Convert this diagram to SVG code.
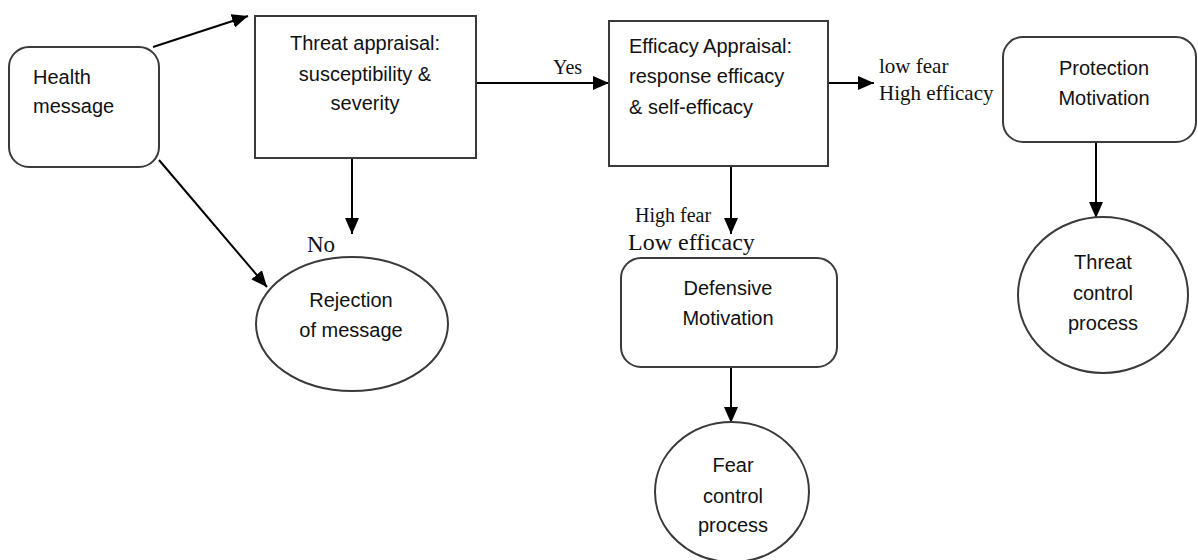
<svg xmlns="http://www.w3.org/2000/svg" width="1198" height="560" viewBox="0 0 1198 560">
<defs>
<marker id="ah" markerWidth="16" markerHeight="14" refX="16" refY="7" orient="auto" markerUnits="userSpaceOnUse">
<path d="M0,0 L16,7 L0,14 z" fill="#000"/>
</marker>
<style>
.box{fill:#fff;stroke:#3a3a3a;stroke-width:2}
.nt{font-family:"Liberation Sans",Arial,sans-serif;font-size:20px;fill:#111}
.c{text-anchor:middle}
.lb{font-family:"Liberation Serif","Times New Roman",serif;fill:#111}
.cn{stroke:#000;stroke-width:2;fill:none;marker-end:url(#ah)}
</style>
</defs>
<rect width="1198" height="560" fill="#fff"/>
<g id="connectors">
<line class="cn" x1="153" y1="47" x2="248" y2="16"/>
<line class="cn" x1="159" y1="160" x2="267" y2="287"/>
<line class="cn" x1="352" y1="158" x2="352" y2="234"/>
<line class="cn" x1="476" y1="83" x2="609" y2="83"/>
<line class="cn" x1="828" y1="83" x2="874" y2="83"/>
<line class="cn" x1="731" y1="166" x2="731" y2="234"/>
<line class="cn" x1="1096" y1="142" x2="1096" y2="218"/>
<line class="cn" x1="731" y1="367" x2="731" y2="423"/>
<text class="lb" x="553" y="74" font-size="20">Yes</text>
<text class="lb" x="307" y="252" font-size="23">No</text>
<text class="lb" x="879" y="73" font-size="21">low fear</text>
<text class="lb" x="879" y="100" font-size="21">High efficacy</text>
<text class="lb" x="635" y="222" font-size="20">High fear</text>
<text class="lb" x="628" y="250" font-size="24">Low efficacy</text>
</g>
<g id="health">
<rect class="box" x="9" y="47" width="150" height="120" rx="20"/>
<text class="nt" x="33" y="84">Health</text>
<text class="nt" x="33" y="113">message</text>
</g>
<g id="threat">
<rect class="box" x="255" y="16" width="221" height="142"/>
<text class="nt c" x="365" y="50">Threat appraisal:</text>
<text class="nt c" x="365" y="81">susceptibility &amp;</text>
<text class="nt c" x="365" y="110">severity</text>
</g>
<g id="efficacy">
<rect class="box" x="609" y="21" width="219" height="145"/>
<text class="nt" x="629" y="53">Efficacy Appraisal:</text>
<text class="nt" x="629" y="83">response efficacy</text>
<text class="nt" x="629" y="114">&amp; self-efficacy</text>
</g>
<g id="protection">
<rect class="box" x="1003" y="37" width="193" height="105" rx="20"/>
<text class="nt c" x="1104" y="75">Protection</text>
<text class="nt c" x="1104" y="105">Motivation</text>
</g>
<g id="rejection">
<ellipse class="box" cx="352" cy="324" rx="96" ry="67"/>
<text class="nt c" x="351" y="307">Rejection</text>
<text class="nt c" x="351" y="337">of message</text>
</g>
<g id="defensive">
<rect class="box" x="621" y="258" width="216" height="109" rx="20"/>
<text class="nt c" x="728" y="295">Defensive</text>
<text class="nt c" x="728" y="325">Motivation</text>
</g>
<g id="threatcontrol">
<ellipse class="box" cx="1103" cy="295" rx="85" ry="78"/>
<text class="nt c" x="1103" y="269">Threat</text>
<text class="nt c" x="1103" y="300">control</text>
<text class="nt c" x="1103" y="330">process</text>
</g>
<g id="fearcontrol">
<ellipse class="box" cx="732" cy="492" rx="77" ry="70"/>
<text class="nt c" x="733" y="472">Fear</text>
<text class="nt c" x="733" y="503">control</text>
<text class="nt c" x="733" y="532">process</text>
</g>
</svg>
